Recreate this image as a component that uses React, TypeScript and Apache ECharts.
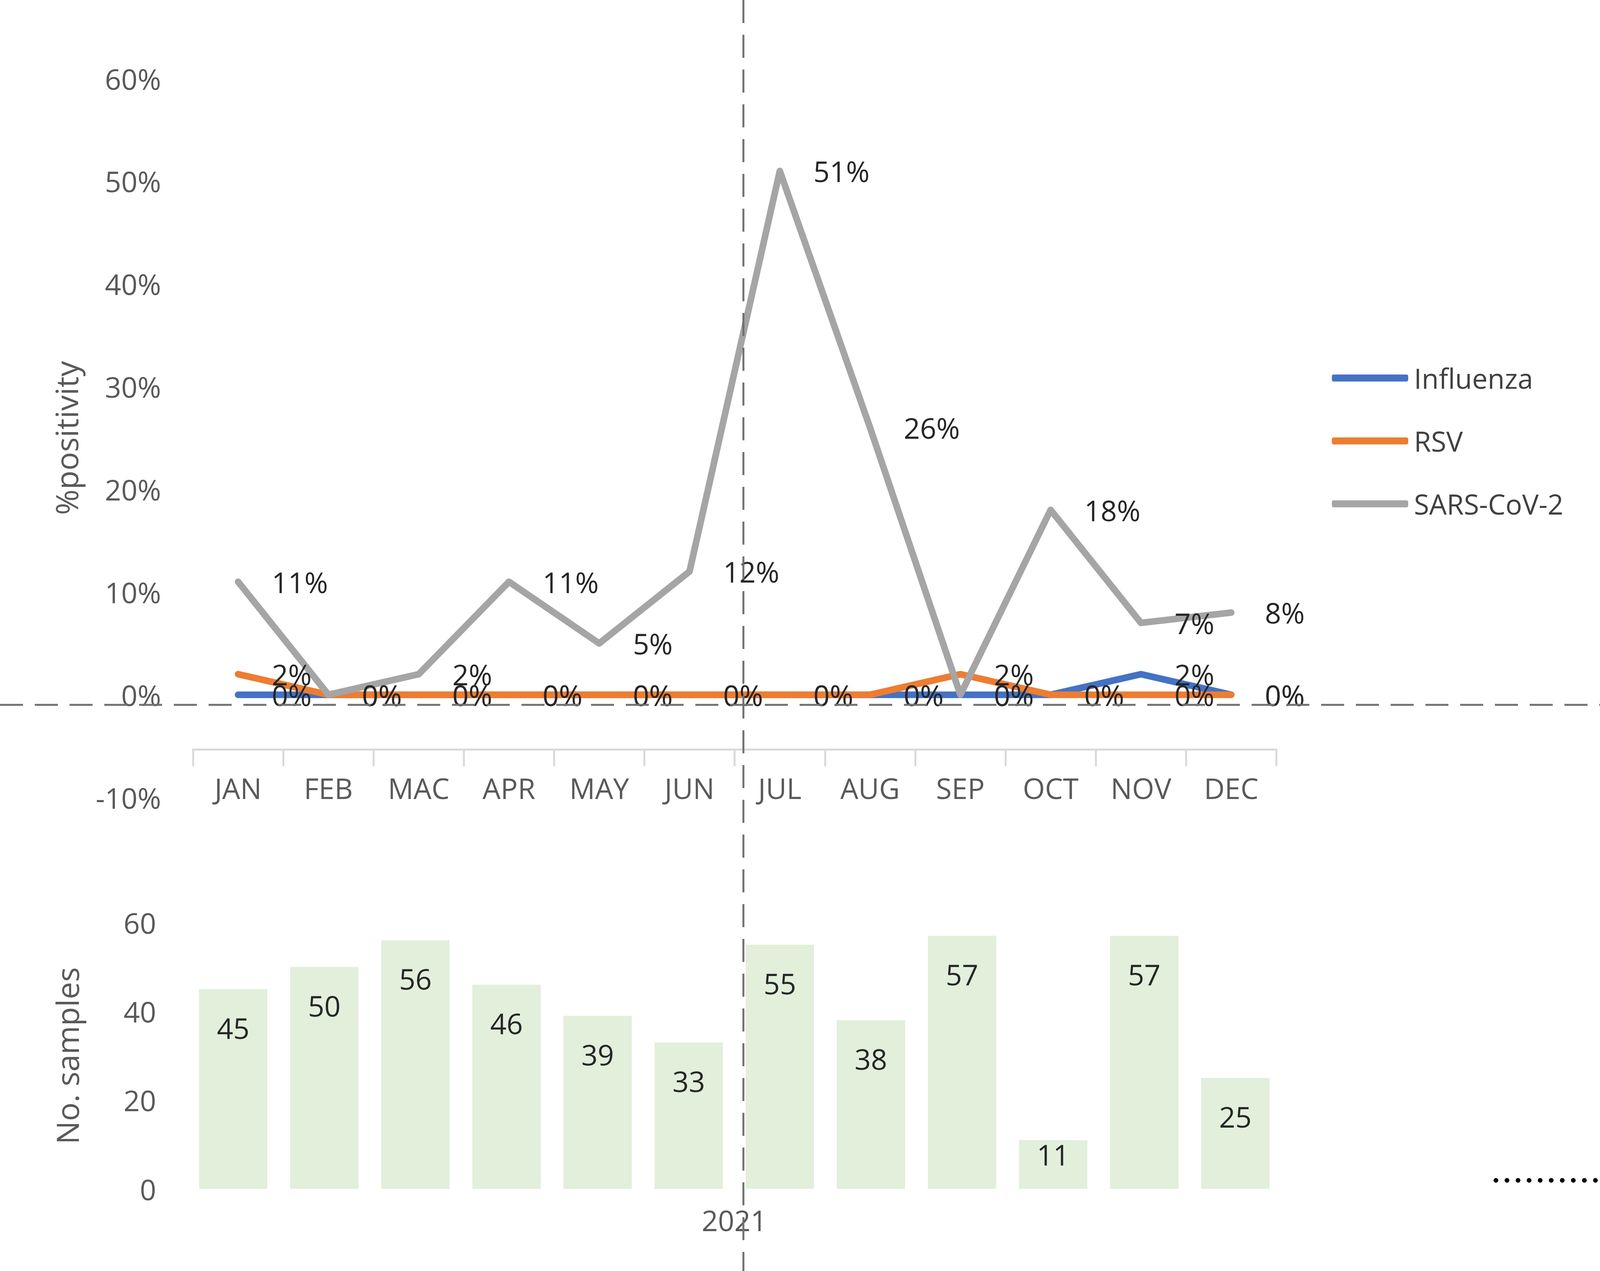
import React, { useEffect, useRef } from "react";
import * as echarts from "echarts";

const months = ["JAN", "FEB", "MAC", "APR", "MAY", "JUN", "JUL", "AUG", "SEP", "OCT", "NOV", "DEC"];
const influenza = [0, 0, 0, 0, 0, 0, 0, 0, 0, 0, 2, 0];
const rsv = [2, 0, 0, 0, 0, 0, 0, 0, 2, 0, 0, 0];
const sarsCov2 = [11, 0, 2, 11, 5, 12, 51, 26, 0, 18, 7, 8];
const samples = [45, 50, 56, 46, 39, 33, 55, 38, 57, 11, 57, 25];
const yearLabel = "2021";
const seriesNames = ["Influenza", "RSV", "SARS-CoV-2"];

const FONT = "'Open Sans', 'Liberation Sans', sans-serif";
const AXIS_COLOR = "#595959";
const LABEL_COLOR = "#262626";
const REF_W = 4212;
const REF_H = 3253;

export default function App() {
  const ref = useRef<HTMLDivElement>(null);

  useEffect(() => {
    const el = ref.current;
    if (!el) return;
    const W = el.clientWidth || REF_W;
    const H = el.clientHeight || REF_H;
    const kx = W / REF_W;
    const ky = H / REF_H;
    const kf = Math.sqrt(kx * ky);
    const X = (v: number) => v * kx;
    const Y = (v: number) => v * ky;
    const F = (v: number) => Math.round(v * kf);

    const chart = echarts.init(el, null, { renderer: "svg" });

    const lineLabel = {
      show: true,
      position: "right",
      distance: X(88),
      fontSize: F(74),
      fontFamily: FONT,
      color: LABEL_COLOR,
      formatter: "{c}%",
    };

    const mkLine = (name: string, data: number[], color: string) => ({
      name,
      type: "line",
      xAxisIndex: 0,
      yAxisIndex: 0,
      data,
      symbol: "circle",
      symbolSize: 1,
      itemStyle: { color },
      lineStyle: { color, width: F(17), cap: "round", join: "round" },
      label: lineLabel,
    });

    const dash = [F(60), F(30)];

    chart.setOption({
      animation: false,
      backgroundColor: "#ffffff",
      textStyle: { fontFamily: FONT },
      grid: [
        { left: X(508), top: Y(201), width: X(2852), height: Y(1840) },
        { left: X(494), top: Y(2361), width: X(2878), height: Y(682) },
      ],
      legend: {
        orient: "vertical",
        left: X(3501),
        top: Y(962) - F(40),
        itemWidth: X(201),
        itemHeight: F(18),
        itemGap: Y(161) - F(80),
        icon: "roundRect",
        data: seriesNames,
        textStyle: {
          fontSize: F(72),
          lineHeight: F(80),
          color: "#404040",
          fontFamily: FONT,
          padding: [0, 0, 0, X(10)],
        },
      },
      xAxis: [
        {
          type: "category",
          gridIndex: 0,
          data: months,
          boundaryGap: true,
          offset: -Y(123),
          axisLine: { show: true, onZero: false, lineStyle: { color: "#D9D9D9", width: F(5) } },
          axisTick: { show: true, length: Y(43), lineStyle: { color: "#D9D9D9", width: F(5) } },
          axisLabel: { fontSize: F(74), color: AXIS_COLOR, margin: Y(62), fontFamily: FONT },
          splitLine: { show: false },
        },
        {
          type: "category",
          gridIndex: 1,
          data: months,
          boundaryGap: true,
          axisLine: { show: false, onZero: false },
          axisTick: { show: false },
          axisLabel: { show: false },
          splitLine: { show: false },
          name: yearLabel,
          nameLocation: "middle",
          nameGap: Y(43),
          nameTextStyle: { fontSize: F(74), color: AXIS_COLOR, fontFamily: FONT },
        },
      ],
      yAxis: [
        {
          type: "value",
          gridIndex: 0,
          min: -10,
          max: 60,
          interval: 10,
          axisLine: { show: false },
          axisTick: { show: false },
          splitLine: { show: false },
          axisLabel: { formatter: "{value}%", fontSize: F(74), color: AXIS_COLOR, margin: X(84), fontFamily: FONT },
          name: "%positivity",
          nameLocation: "middle",
          nameRotate: 90,
          nameGap: X(293),
          nameTextStyle: { fontSize: F(80), color: AXIS_COLOR, fontFamily: FONT },
        },
        {
          type: "value",
          gridIndex: 1,
          min: 0,
          max: 60,
          interval: 20,
          axisLine: { show: false },
          axisTick: { show: false },
          splitLine: { show: false },
          axisLabel: { fontSize: F(74), color: AXIS_COLOR, margin: X(83), fontFamily: FONT },
          name: "No. samples",
          nameLocation: "middle",
          nameRotate: 90,
          nameGap: X(277),
          nameTextStyle: { fontSize: F(80), color: AXIS_COLOR, fontFamily: FONT },
        },
      ],
      series: [
        {
          name: "No. samples",
          type: "bar",
          xAxisIndex: 1,
          yAxisIndex: 1,
          barCategoryGap: "25%",
          itemStyle: { color: "#E2EFDA" },
          label: {
            show: true,
            position: "insideTop",
            distance: Y(62),
            fontSize: F(74),
            fontFamily: FONT,
            color: LABEL_COLOR,
          },
          data: samples.map((v) => (v < 15 ? { value: v, label: { distance: 0 } } : v)),
        },
        mkLine(seriesNames[0], influenza, "#4472C4"),
        mkLine(seriesNames[1], rsv, "#ED7D31"),
        mkLine(seriesNames[2], sarsCov2, "#A5A5A5"),
      ],
      graphic: [
        {
          type: "line",
          z: 100,
          shape: { x1: 0, y1: Y(1804), x2: W, y2: Y(1804) },
          style: { stroke: "#707070", lineWidth: F(5), lineDash: dash },
        },
        {
          type: "line",
          z: 100,
          shape: { x1: X(1957), y1: 0, x2: X(1957), y2: H },
          style: { stroke: "#707070", lineWidth: F(5), lineDash: dash },
        },
        {
          type: "line",
          z: 100,
          shape: { x1: X(3938), y1: Y(3021), x2: W, y2: Y(3021) },
          style: { stroke: "#000000", lineWidth: F(12), lineCap: "round", lineDash: [0.1, X(29)] },
        },
      ],
    });

    return () => chart.dispose();
  }, []);

  return (
    <div
      ref={ref}
      style={{ position: "fixed", left: 0, top: 0, width: "100vw", height: "100vh", background: "#fff" }}
    />
  );
}
